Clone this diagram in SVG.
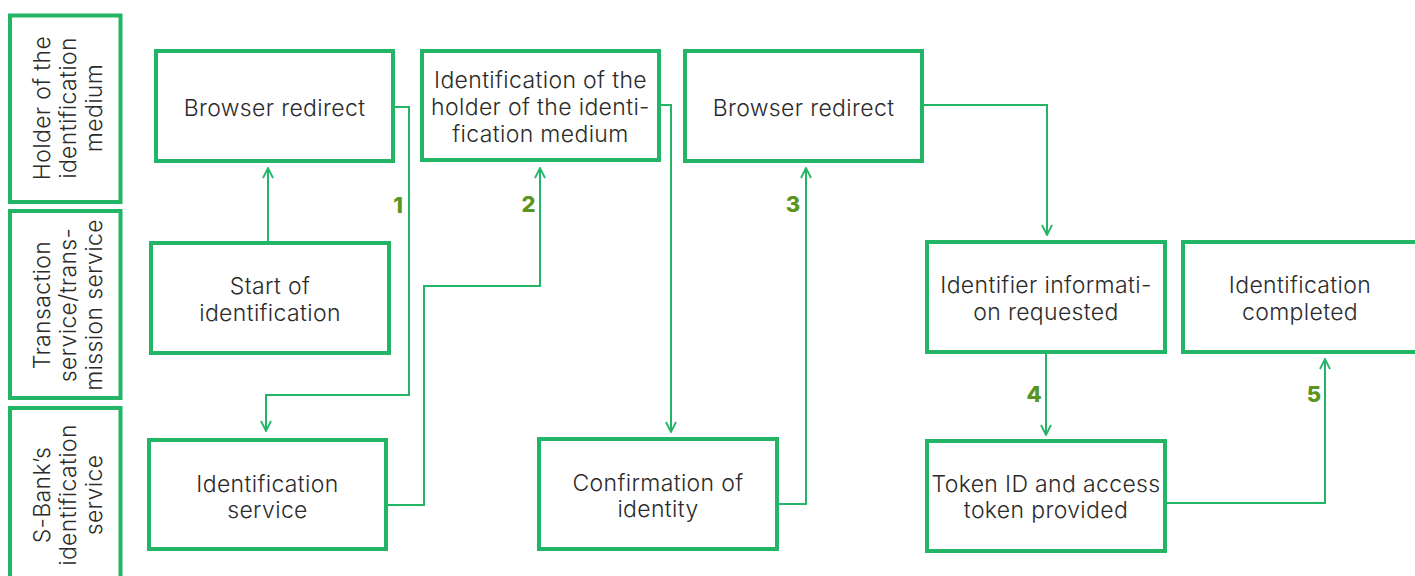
<svg xmlns="http://www.w3.org/2000/svg" width="1415" height="576" viewBox="0 0 1415 576">
  <style>
    .box { fill: #ffffff; stroke: #23b566; stroke-width: 4; }
    .lane { fill: #ffffff; stroke: #23b566; stroke-width: 4; }
    .label { font-family: Inter, "Noto Sans", sans-serif; font-weight: 300; font-size: 23px; letter-spacing: 0.35px; fill: #2b2b2b; text-anchor: middle; }
    .wire { fill: none; stroke: #23b566; stroke-width: 2; }
    .step { font-family: Inter, "Noto Sans", sans-serif; font-weight: 800; font-size: 22px; fill: #5a951f; text-anchor: middle; }
  </style>
  <defs>
    <marker id="arrow" viewBox="0 0 12 12" refX="11" refY="6" markerWidth="12" markerHeight="12" markerUnits="userSpaceOnUse" orient="auto">
      <path d="M1 1 L11 6 L1 11" fill="none" stroke="#23b566" stroke-width="1.8"/>
    </marker>
  </defs>

  <!-- swimlane headers -->
  <g id="lane-holder">
    <rect class="lane" x="10" y="15.5" width="110.5" height="186.5"/>
    <g transform="translate(0,108) rotate(-90)">
      <text class="label" x="0" y="50">Holder of the</text>
      <text class="label" x="0" y="76">identification</text>
      <text class="label" x="0" y="102">medium</text>
    </g>
  </g>
  <g id="lane-transaction">
    <rect class="lane" x="10" y="211" width="110.5" height="187"/>
    <g transform="translate(0,305) rotate(-90)">
      <text class="label" x="0" y="50">Transaction</text>
      <text class="label" x="0" y="76">service/trans-</text>
      <text class="label" x="0" y="102">mission service</text>
    </g>
  </g>
  <g id="lane-sbank">
    <rect class="lane" x="10" y="408" width="110.5" height="190"/>
    <g transform="translate(0,495) rotate(-90)">
      <text class="label" x="0" y="50">S-Bank’s</text>
      <text class="label" x="0" y="76">identification</text>
      <text class="label" x="0" y="102">service</text>
    </g>
  </g>

  <!-- connectors -->
  <g id="connectors">
    <path class="wire" d="M268 243 V168" marker-end="url(#arrow)"/>
    <path class="wire" d="M393 107 H409 V395 H266 V431" marker-end="url(#arrow)"/>
    <path class="wire" d="M386 505 H424 V286 H540 V168" marker-end="url(#arrow)"/>
    <path class="wire" d="M659 105 H671 V432" marker-end="url(#arrow)"/>
    <path class="wire" d="M777 504 H806 V168" marker-end="url(#arrow)"/>
    <path class="wire" d="M922 105 H1047 V235" marker-end="url(#arrow)"/>
    <path class="wire" d="M1046 352 V435" marker-end="url(#arrow)"/>
    <path class="wire" d="M1165 503 H1325 V359" marker-end="url(#arrow)"/>
    <text class="step" x="398" y="213">1</text>
    <text class="step" x="528.5" y="212">2</text>
    <text class="step" x="793" y="212">3</text>
    <text class="step" x="1034" y="402">4</text>
    <text class="step" x="1314" y="402">5</text>
  </g>

  <!-- process steps -->
  <g id="browser-redirect-1">
    <rect class="box" x="156" y="51" width="237" height="110"/>
    <text class="label" x="274.5" y="116">Browser redirect</text>
  </g>
  <g id="start-of-identification">
    <rect class="box" x="151" y="243" width="238" height="110"/>
    <text class="label" x="270" y="294">Start of</text>
    <text class="label" x="270" y="321">identification</text>
  </g>
  <g id="identification-service">
    <rect class="box" x="149" y="440" width="237" height="109"/>
    <text class="label" x="267.5" y="492">Identification</text>
    <text class="label" x="267.5" y="518">service</text>
  </g>
  <g id="identification-of-holder">
    <rect class="box" x="422" y="51" width="237" height="109"/>
    <text class="label" x="540.5" y="88">Identification of the</text>
    <text class="label" x="540.5" y="115">holder of the identi-</text>
    <text class="label" x="540.5" y="142">fication medium</text>
  </g>
  <g id="confirmation-of-identity">
    <rect class="box" x="539" y="439" width="238" height="110"/>
    <text class="label" x="658" y="491">Confirmation of</text>
    <text class="label" x="658" y="517">identity</text>
  </g>
  <g id="browser-redirect-2">
    <rect class="box" x="685" y="51" width="237" height="110"/>
    <text class="label" x="803.5" y="116">Browser redirect</text>
  </g>
  <g id="identifier-information-requested">
    <rect class="box" x="927" y="242" width="238" height="110"/>
    <text class="label" x="1046" y="293">Identifier informati-</text>
    <text class="label" x="1046" y="320">on requested</text>
  </g>
  <g id="token-provided">
    <rect class="box" x="927" y="441" width="238" height="110"/>
    <text class="label" x="1046" y="492">Token ID and access</text>
    <text class="label" x="1046" y="518">token provided</text>
  </g>
  <g id="identification-completed">
    <rect class="box" x="1183" y="242" width="245" height="110"/>
    <text class="label" x="1300" y="293">Identification</text>
    <text class="label" x="1300" y="320">completed</text>
  </g>
</svg>
